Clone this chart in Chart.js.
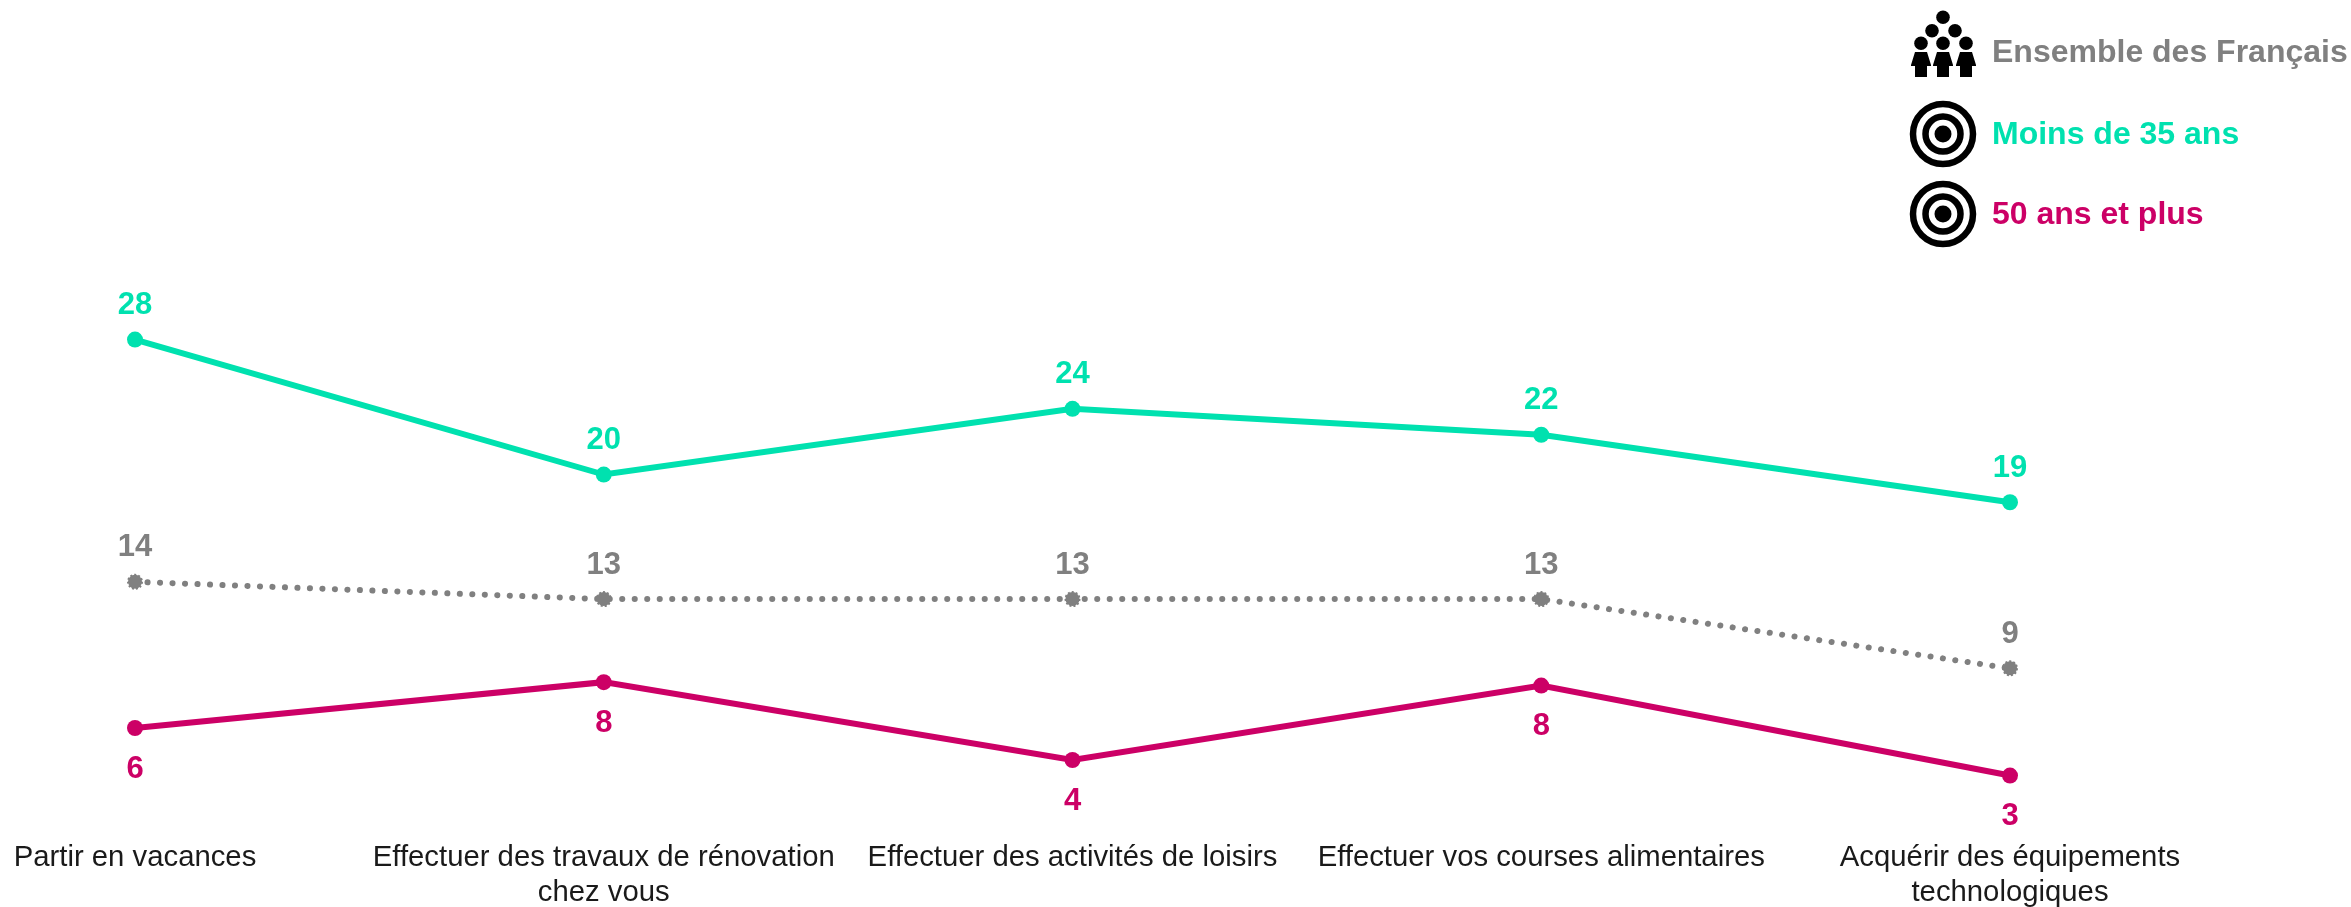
<!DOCTYPE html>
<html lang="fr">
<head>
<meta charset="utf-8">
<title>Ensemble des Français</title>
<script src="https://cdn.jsdelivr.net/npm/chart.js@4"></script>
<style>
    html, body { margin: 0; padding: 0; background: #fff; }
    #wrap { position: relative; width: 2351px; height: 907px; overflow: hidden; }
    #legend { position: absolute; left: 1907px; top: 0; font: bold 32px "Liberation Sans", Arial, sans-serif; }
    .item { position: absolute; left: 0; display: flex; align-items: center; white-space: nowrap; height: 70px; }
    .item svg { width: 72px; height: 70px; margin-right: 13px; flex: none; overflow: visible; }
</style>
</head>
<body>
<div id="wrap">
    <canvas id="chart" width="2351" height="907"></canvas>
    <div id="legend">
        <div class="item" style="top:16px;color:#808080">
            <svg viewBox="0 0 72 70">
                <g fill="#000">
                    <circle cx="36" cy="1.300" r="6.800"/><circle cx="25" cy="14.700" r="6.800"/><circle cx="48" cy="14.700" r="6.800"/>
                    <circle cx="14" cy="27.300" r="6.800"/><circle cx="36" cy="27.300" r="6.800"/><circle cx="59" cy="27.300" r="6.800"/>
                    <path id="body" d="M8 36h12l4 13v1h-4v11h-12v-11h-4v-1z"/>
                    <use href="#body" x="22"/><use href="#body" x="45"/>
                </g>
            </svg>Ensemble des Français
        </div>
        <div class="item" style="top:98px;color:#00e1af">
            <svg viewBox="0 0 72 70"><g fill="none" stroke="#000"><circle cx="36" cy="36" r="30" stroke-width="6.500"/><circle cx="36" cy="36" r="17.500" stroke-width="6.500"/></g><circle cx="36" cy="36" r="8.500"/></svg>Moins de 35 ans
        </div>
        <div class="item" style="top:178px;color:#cc0066">
            <svg viewBox="0 0 72 70"><g fill="none" stroke="#000"><circle cx="36" cy="36" r="30" stroke-width="6.500"/><circle cx="36" cy="36" r="17.500" stroke-width="6.500"/></g><circle cx="36" cy="36" r="8.500"/></svg>50 ans et plus
        </div>
    </div>
</div>
<script>
// Categories (multi-line where the original wraps)
const categories = [
    'Partir en vacances',
    ['Effectuer des travaux de rénovation', 'chez vous'],
    'Effectuer des activités de loisirs',
    'Effectuer vos courses alimentaires',
    ['Acquérir des équipements', 'technologiques']
];

// Series values
const ensembleValues = [14, 13, 13, 13, 9];
const moinsValues = [28, 20.2, 24, 22.5, 18.6];
const plusValues = [5.55, 8.2, 3.7, 8, 2.8];

// Printed labels are rounded figures
const ensembleLabels = ['14', '13', '13', '13', '9'];
const moinsLabels = ['28', '20', '24', '22', '19'];
const plusLabels = ['6', '8', '4', '8', '3'];

const GREY = '#808080';
const TEAL = '#00e1af';
const PINK = '#cc0066';

// Draws the printed figures above or below each point
const valueLabels = {
    id: 'valueLabels',
    afterDatasetsDraw(chart) {
        const ctx = chart.ctx;
        ctx.save();
        ctx.font = 'bold 31px "Liberation Sans", Arial, sans-serif';
        ctx.textAlign = 'center';
        ctx.textBaseline = 'middle';
        chart.data.datasets.forEach((ds, i) => {
            ctx.fillStyle = ds.borderColor;
            chart.getDatasetMeta(i).data.forEach((pt, j) => {
                ctx.fillText(ds.printed[j], pt.x, pt.y + ds.labelShift);
            });
        });
        ctx.restore();
    }
};

// The grey markers have a dashed rim, which Chart.js points do not support
const dashedRim = {
    id: 'dashedRim',
    afterDatasetsDraw(chart) {
        const ctx = chart.ctx;
        ctx.save();
        ctx.strokeStyle = GREY;
        ctx.lineWidth = 2;
        ctx.setLineDash([2, 2]);
        chart.getDatasetMeta(0).data.forEach((pt) => {
            ctx.beginPath();
            ctx.arc(pt.x, pt.y, 7, 0, Math.PI * 2);
            ctx.stroke();
        });
        ctx.restore();
    }
};

new Chart(document.getElementById('chart').getContext('2d'), {
    type: 'line',
    data: {
        labels: categories,
        datasets: [
            { label: 'Ensemble des Français', data: ensembleValues, printed: ensembleLabels, labelShift: -34,
              borderColor: GREY, backgroundColor: GREY, borderWidth: 6, borderDash: [0.1, 12.4], borderCapStyle: 'round',
              pointRadius: 7, pointBorderWidth: 0 },
            { label: 'Moins de 35 ans', data: moinsValues, printed: moinsLabels, labelShift: -34,
              borderColor: TEAL, backgroundColor: TEAL, borderWidth: 6, pointRadius: 8, pointBorderWidth: 0 },
            { label: '50 ans et plus', data: plusValues, printed: plusLabels, labelShift: 41,
              borderColor: PINK, backgroundColor: PINK, borderWidth: 6, pointRadius: 8, pointBorderWidth: 0 }
        ]
    },
    options: {
        responsive: false,
        animation: false,
        layout: { padding: { left: 135, right: 341, top: 132, bottom: 0 } },
        elements: { line: { tension: 0 } },
        scales: {
            x: {
                offset: false,
                grid: { display: false },
                border: { display: false },
                afterFit: (scale) => { scale.height = 83; },
                ticks: {
                    autoSkip: false,
                    maxRotation: 0,
                    minRotation: 0,
                    padding: 8,
                    color: '#1a1a1a',
                    font: { family: '"Liberation Sans", Arial, sans-serif', size: 29.3 }
                }
            },
            y: { display: false, min: 0, max: 40 }
        },
        plugins: { legend: { display: false }, tooltip: { enabled: false } }
    },
    plugins: [valueLabels, dashedRim]
});
</script>
</body>
</html>
